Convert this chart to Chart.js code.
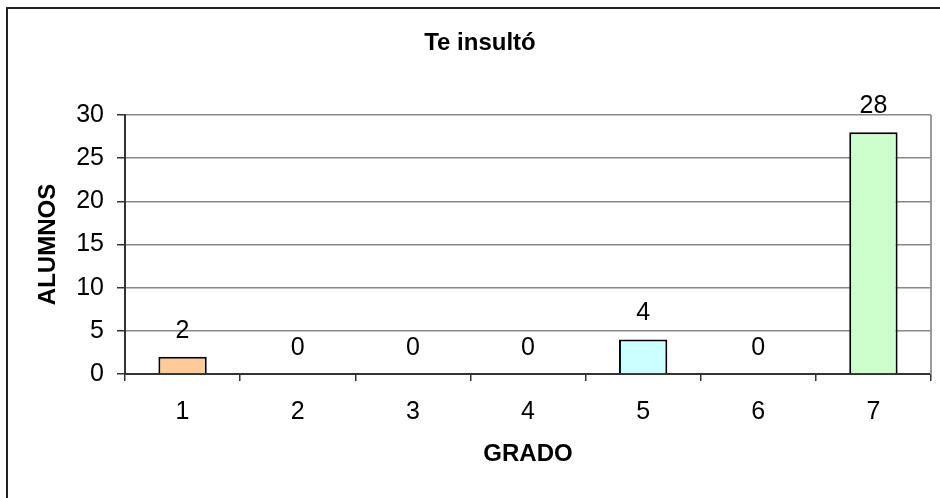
<!DOCTYPE html>
<html>
<head>
<meta charset="utf-8">
<script src="https://cdn.jsdelivr.net/npm/chart.js@4"></script>
<style>
  html, body { margin: 0; padding: 0; background: #fff; }
  #wrap { position: relative; width: 940px; height: 498px; overflow: hidden; }
  #frame { position: absolute; left: 6px; top: 7px; width: 1000px; height: 1000px;
           border: 2px solid #222; box-sizing: border-box; }
  canvas { position: absolute; left: 0; top: 0; }
</style>
</head>
<body>
<div id="wrap">
  <div id="frame"></div>
  <canvas id="c" width="940" height="498"></canvas>
</div>
<script>
// Data
const grados  = ['1', '2', '3', '4', '5', '6', '7'];
const alumnos = [2, 0, 0, 0, 4, 0, 28];
const colores = ['#FFCC99', '#FFFFFF', '#FFFFFF', '#FFFFFF', '#CCFFFF', '#FFFFFF', '#CCFFCC'];
const titulo  = 'Te insultó';

const FONT = '"Liberation Sans", Arial, sans-serif';

// value labels above each bar + chart title (slightly right of centre, as in the original)
const valueLabels = {
  id: 'valueLabels',
  afterDatasetsDraw(chart) {
    const ctx = chart.ctx;
    const meta = chart.getDatasetMeta(0);
    ctx.save();
    ctx.font = `25px ${FONT}`;
    ctx.fillStyle = '#000';
    ctx.textAlign = 'center';
    ctx.textBaseline = 'middle';
    meta.data.forEach((bar, i) => {
      ctx.fillText(String(alumnos[i]), bar.x, bar.y - 26);
    });
    ctx.font = `bold 24px ${FONT}`;
    ctx.fillText(titulo, 480, 43);
    ctx.restore();
  },
};

// gray right border of plot area
const plotBorder = {
  id: 'plotBorder',
  beforeDatasetsDraw(chart) {
    const { ctx, chartArea: a } = chart;
    ctx.save();
    ctx.strokeStyle = '#999';
    ctx.lineWidth = 2;
    ctx.beginPath();
    ctx.moveTo(a.right, a.top);
    ctx.lineTo(a.right, a.bottom);
    ctx.stroke();
    ctx.restore();
  },
};

new Chart(document.getElementById('c'), {
  type: 'bar',
  data: {
    labels: grados,
    datasets: [{
      data: alumnos,
      backgroundColor: colores,
      borderColor: '#000',
      borderWidth: 2,
      barPercentage: 0.42,
      categoryPercentage: 1,
    }],
  },
  options: {
    responsive: false,
    animation: false,
    layout: { padding: { left: 0, right: 9, top: 115, bottom: 0 } },
    plugins: {
      legend: { display: false },
      tooltip: { enabled: false },
      title: { display: false },
    },
    scales: {
      x: {
        grid: { display: true, drawOnChartArea: false, offset: true, tickLength: 7, color: '#333', lineWidth: 1.5 },
        border: { color: '#333', width: 2 },
        ticks: { color: '#000', font: { family: FONT, size: 25 }, padding: 16, maxRotation: 0 },
        title: {
          display: true, text: 'GRADO', color: '#000',
          font: { family: FONT, size: 24, weight: 'bold' },
          padding: { top: 0, bottom: 29 },
        },
        afterFit(s) { s.height = 124; },
      },
      y: {
        min: 0, max: 30,
        ticks: { stepSize: 5, color: '#000', font: { family: FONT, size: 25 }, padding: 13 },
        grid: { color: '#888', lineWidth: 1.5, tickLength: 8, tickColor: '#333' },
        border: { color: '#333', width: 2 },
        title: {
          display: true, text: 'ALUMNOS', color: '#000',
          font: { family: FONT, size: 24, weight: 'bold' },
          padding: { top: 34, bottom: 0 },
        },
        afterFit(s) { s.width = 125; },
      },
    },
  },
  plugins: [valueLabels, plotBorder],
});
</script>
</body>
</html>
